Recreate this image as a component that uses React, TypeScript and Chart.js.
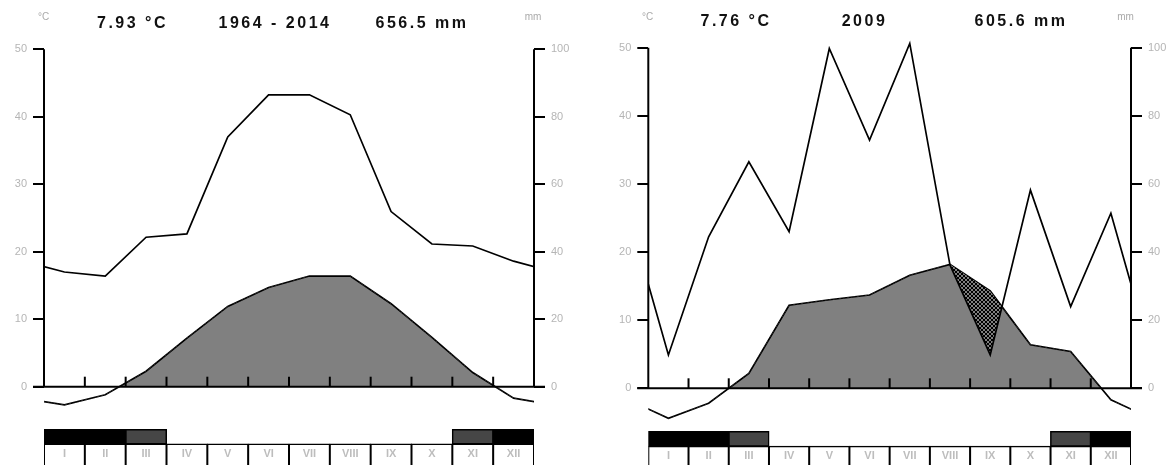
import React, { useEffect, useRef } from 'react';
import { Chart, registerables } from 'chart.js';

Chart.register(...registerables);

// ---------- data ----------
const months = ['I', 'II', 'III', 'IV', 'V', 'VI', 'VII', 'VIII', 'IX', 'X', 'XI', 'XII'];
const tempTicks = [0, 10, 20, 30, 40, 50];
const precTicks = [0, 20, 40, 60, 80, 100];

// Panel A: 1964 - 2014 mean
const tempA = [-2.7, -1.2, 2.3, 7.2, 11.9, 14.7, 16.4, 16.4, 12.3, 7.3, 2.1, -1.7];
const precA = [34, 32.8, 44.3, 45.3, 74, 86.5, 86.5, 80.6, 51.9, 42.3, 41.7, 37.2];
const frostA = [2, 2, 1, 0, 0, 0, 0, 0, 0, 0, 1, 2]; // 2 = certain frost, 1 = probable frost
const titlesA = ['7.93 °C', '1964 - 2014', '656.5 mm'];

// Panel B: 2009
const tempB = [-4.4, -2.2, 2.2, 12.2, 13.0, 13.7, 16.6, 18.2, 14.3, 6.4, 5.4, -1.7];
const precB = [9.8, 44.5, 66.5, 46, 99.8, 72.9, 101.3, 36.2, 9.8, 58.2, 24, 51.4];
const frostB = [2, 2, 1, 0, 0, 0, 0, 0, 0, 0, 1, 2];
const titlesB = ['7.76 °C', '2009', '605.6 mm'];

const unitLabels = ['°C', 'mm'];

// ---------- layout ----------
const W = 588;
const H = 465;
const TOP = 25;
const STRIP_TOP = -6.35;
const STRIP_MID = -8.5;
const STRIP_BOTTOM = -30;
const FONT = '"Liberation Sans", Arial, sans-serif';

const panelA = {
  left: 0, areaLeft: 44, areaRight: 534, zeroY: 386.7, ppu: 6.748,
  titleY: 24, unitY: 17, titleX: [132.5, 275, 422], unitX: [43.5, 533],
  temp: tempA, prec: precA, frost: frostA, titles: titlesA,
};
const panelB = {
  left: 588, areaLeft: 60.3, areaRight: 543, zeroY: 388.3, ppu: 6.81,
  titleY: 21.5, unitY: 17, titleX: [148, 276.5, 433], unitX: [59.5, 537.5],
  temp: tempB, prec: precB, frost: frostB, titles: titlesB,
};

// cyclic series: previous December before January, next January after December
function cyc(arr: number[]) {
  return [
    { x: -0.5, y: arr[arr.length - 1] },
    ...arr.map((v, i) => ({ x: i + 0.5, y: v })),
    { x: arr.length + 0.5, y: arr[0] },
  ];
}

function makeHatch(ctx: CanvasRenderingContext2D) {
  const c = document.createElement('canvas');
  c.width = 4;
  c.height = 4;
  const g = c.getContext('2d')!;
  g.fillStyle = '#808080';
  g.fillRect(0, 0, 4, 4);
  g.fillStyle = '#000';
  for (let i = 0; i < 4; i++) {
    g.fillRect(i, i, 1, 1);
    g.fillRect(3 - i, i, 1, 1);
  }
  return ctx.createPattern(c, 'repeat');
}

function decorPlugin(cfg: any) {
  return {
    id: 'decor',
    afterDatasetsDraw(chart: any) {
      const { ctx, chartArea: a, scales } = chart;
      const { x, y, y2 } = scales;
      const y0 = y.getPixelForValue(0);
      const ln = (x1: number, y1: number, x2: number, yy2: number) => {
        ctx.beginPath();
        ctx.moveTo(x1, y1);
        ctx.lineTo(x2, yy2);
        ctx.stroke();
      };
      ctx.save();
      ctx.strokeStyle = '#000';
      ctx.lineWidth = 2;
      // axis lines
      ln(a.left, y0, a.left, y.getPixelForValue(tempTicks[tempTicks.length - 1]));
      ln(a.right, y2.getPixelForValue(0), a.right, y2.getPixelForValue(precTicks[precTicks.length - 1]));
      // baseline
      ln(a.left - 11, y0, a.right + 11, y0);
      // month ticks
      for (let i = 1; i < months.length; i++) {
        const px = x.getPixelForValue(i);
        ln(px, y0, px, y0 - 10);
      }
      // month labels
      ctx.fillStyle = '#bdbdbd';
      ctx.font = `bold 11px ${FONT}`;
      ctx.textAlign = 'center';
      ctx.textBaseline = 'middle';
      const ly = y.getPixelForValue(STRIP_MID) + 10;
      months.forEach((m, i) => ctx.fillText(m, x.getPixelForValue(i + 0.5), ly));
      ctx.restore();
    },
    afterDraw(chart: any) {
      const { ctx } = chart;
      ctx.save();
      ctx.textAlign = 'center';
      ctx.textBaseline = 'middle';
      ctx.fillStyle = '#aaaaaa';
      ctx.font = `10px ${FONT}`;
      unitLabels.forEach((u, i) => ctx.fillText(u, cfg.unitX[i], cfg.unitY));
      ctx.fillStyle = '#111';
      ctx.font = `bold 16px ${FONT}`;
      try { (ctx as any).letterSpacing = '2.5px'; } catch (e) {}
      cfg.titles.forEach((t: string, i: number) => ctx.fillText(t, cfg.titleX[i], cfg.titleY));
      ctx.restore();
    },
  };
}

function buildConfig(cfg: any, ctx: CanvasRenderingContext2D) {
  const yMax = (cfg.zeroY - TOP) / cfg.ppu;
  const yMin = -(H - cfg.zeroY) / cfg.ppu;
  const hatch = makeHatch(ctx);
  const frostData = cfg.frost
    .map((lv: number, i: number) => ({ x: i + 0.5, y: [STRIP_TOP, STRIP_MID], level: lv }))
    .filter((d: any) => d.level > 0);
  const boxData = months.map((_, i) => ({ x: i + 0.5, y: [STRIP_MID, STRIP_BOTTOM] }));
  const tickFont = { size: 11, family: FONT };

  return {
    type: 'line',
    data: {
      datasets: [
        {
          label: 'Niederschlag',
          data: cyc(cfg.prec),
          yAxisID: 'y2',
          borderColor: '#000',
          borderWidth: 1.7,
          pointRadius: 0,
          tension: 0,
          fill: { target: 1, above: 'rgba(0,0,0,0)', below: hatch },
        },
        {
          label: 'Temperatur',
          data: cyc(cfg.temp),
          yAxisID: 'y',
          borderColor: '#000',
          borderWidth: 1.7,
          pointRadius: 0,
          tension: 0,
          fill: { target: 'origin', above: '#808080', below: 'rgba(0,0,0,0)' },
        },
        {
          type: 'bar',
          label: 'Frost',
          data: frostData,
          yAxisID: 'y',
          backgroundColor: (c: any) => (c.raw && c.raw.level === 2 ? '#000000' : '#464646'),
          borderColor: '#000',
          borderWidth: 1.5,
          borderSkipped: false,
          inflateAmount: 0.5,
          grouped: false,
          barPercentage: 1,
          categoryPercentage: 1,
        },
        {
          type: 'bar',
          label: 'Monate',
          data: boxData,
          yAxisID: 'y',
          backgroundColor: '#ffffff',
          borderColor: '#000',
          borderWidth: 1.5,
          borderSkipped: false,
          inflateAmount: 0.5,
          grouped: false,
          barPercentage: 1,
          categoryPercentage: 1,
        },
      ],
    },
    options: {
      responsive: false,
      maintainAspectRatio: false,
      animation: false,
      layout: { padding: { top: TOP, bottom: 0, left: 0, right: 0 } },
      plugins: { legend: { display: false }, tooltip: { enabled: false }, title: { display: false } },
      scales: {
        x: {
          type: 'linear',
          min: 0,
          max: months.length,
          display: false,
          offset: false,
          afterBuildTicks: (s: any) => {
            s.ticks = months.map((_, i) => ({ value: i })).concat([{ value: months.length }]);
          },
        },
        y: {
          type: 'linear',
          position: 'left',
          min: yMin,
          max: yMax,
          afterBuildTicks: (s: any) => {
            s.ticks = tempTicks.map((v) => ({ value: v }));
          },
          afterFit: (s: any) => {
            s.width = cfg.areaLeft;
            s.paddingTop = 0;
            s.paddingBottom = 0;
          },
          border: { display: false },
          grid: { drawOnChartArea: false, drawTicks: true, tickLength: 11, color: '#000', tickColor: '#000', lineWidth: 2 },
          ticks: { padding: 6, color: '#b5b5b5', font: tickFont, autoSkip: false, callback: (v: any) => String(v) },
        },
        y2: {
          type: 'linear',
          position: 'right',
          min: yMin * 2,
          max: yMax * 2,
          afterBuildTicks: (s: any) => {
            s.ticks = precTicks.map((v) => ({ value: v }));
          },
          afterFit: (s: any) => {
            s.width = W - cfg.areaRight;
            s.paddingTop = 0;
            s.paddingBottom = 0;
          },
          border: { display: false },
          grid: { drawOnChartArea: false, drawTicks: true, tickLength: 11, color: '#000', tickColor: '#000', lineWidth: 2 },
          ticks: { padding: 6, color: '#b5b5b5', font: tickFont, autoSkip: false, callback: (v: any) => String(v) },
        },
      },
    },
    plugins: [decorPlugin(cfg)],
  } as any;
}

function Panel({ cfg }: { cfg: any }) {
  const ref = useRef<HTMLCanvasElement | null>(null);
  useEffect(() => {
    const canvas = ref.current!;
    const ctx = canvas.getContext('2d')!;
    const chart = new Chart(ctx, buildConfig(cfg, ctx));
    return () => chart.destroy();
  }, [cfg]);
  return (
    <canvas
      ref={ref}
      width={W}
      height={H}
      style={{ position: 'absolute', left: cfg.left, top: 0, width: W, height: H }}
    />
  );
}

export default function App() {
  return (
    <div style={{ position: 'absolute', left: 0, top: 0, width: 1176, height: 465, background: '#fff', overflow: 'hidden' }}>
      <Panel cfg={panelA} />
      <Panel cfg={panelB} />
    </div>
  );
}
